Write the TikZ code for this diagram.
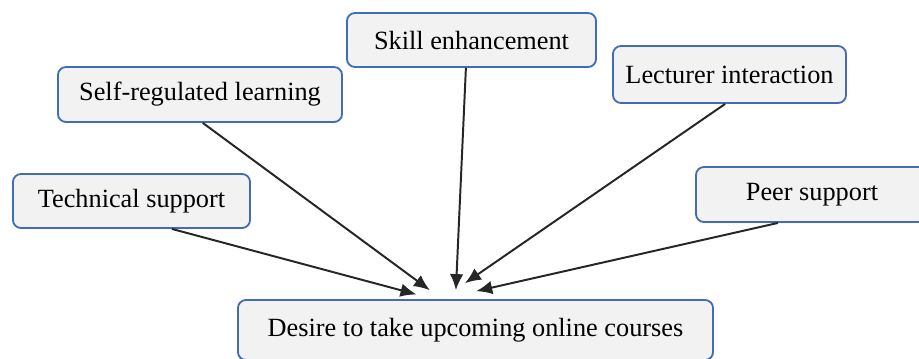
\documentclass[tikz,border=0pt]{standalone}
\usepackage{fontspec}
\setmainfont{Liberation Serif}
\usetikzlibrary{arrows.meta}
\definecolor{boxblue}{RGB}{66,108,184}
\definecolor{boxgray}{RGB}{242,242,242}
\tikzset{
  factor/.style={draw=boxblue,line width=1.3pt,fill=boxgray,rounded corners=0.2cm,
    inner sep=0pt,font=\fontsize{18.7}{22}\selectfont},
  link/.style={-{Latex[length=0.4cm,width=0.34cm]},line width=1.4pt,draw=black!85}
}
\begin{document}
\begin{tikzpicture}[x=0.025cm,y=-0.025cm]
  \useasboundingbox (0,0) rectangle (919,358);
  % instantiate nodes
  \node[factor,minimum width=5.925cm,minimum height=1.35cm] (tech) at (131.5,201) {Technical support};
  \node[factor,minimum width=7.1cm,minimum height=1.375cm] (self) at (200,94.5) {Self-regulated learning};
  \node[factor,minimum width=6.225cm,minimum height=1.35cm] (skill) at (471.5,40) {Skill enhancement};
  \node[factor,minimum width=5.825cm,minimum height=1.425cm] (lect) at (729.5,74.5) {Lecturer interaction};
  \node[factor,minimum width=5.8cm,minimum height=1.375cm] (peer) at (812,194.5) {Peer support};
  \node[factor,minimum width=11.875cm,minimum height=1.5cm] (desire) at (475.5,330) {Desire to take upcoming online courses};
  % factors point to the desire box
  \draw[link,shorten >=0.45cm] ([xshift=1.01cm]tech.south) -- ([xshift=-1.04cm]desire.north);
  \draw[link,shorten >=0.375cm] ([xshift=0.07cm]self.south) -- ([xshift=-0.84cm]desire.north);
  \draw[link,shorten >=0.225cm] ([xshift=-0.14cm]skill.south) -- ([xshift=-0.5cm]desire.north);
  \draw[link,shorten >=0.7cm] ([xshift=-0.11cm]lect.south) -- ([xshift=-0.84cm]desire.north);
  \draw[link,shorten >=0.9cm] ([xshift=-0.85cm]peer.south) -- ([xshift=-0.86cm]desire.north);
\end{tikzpicture}
\end{document}
